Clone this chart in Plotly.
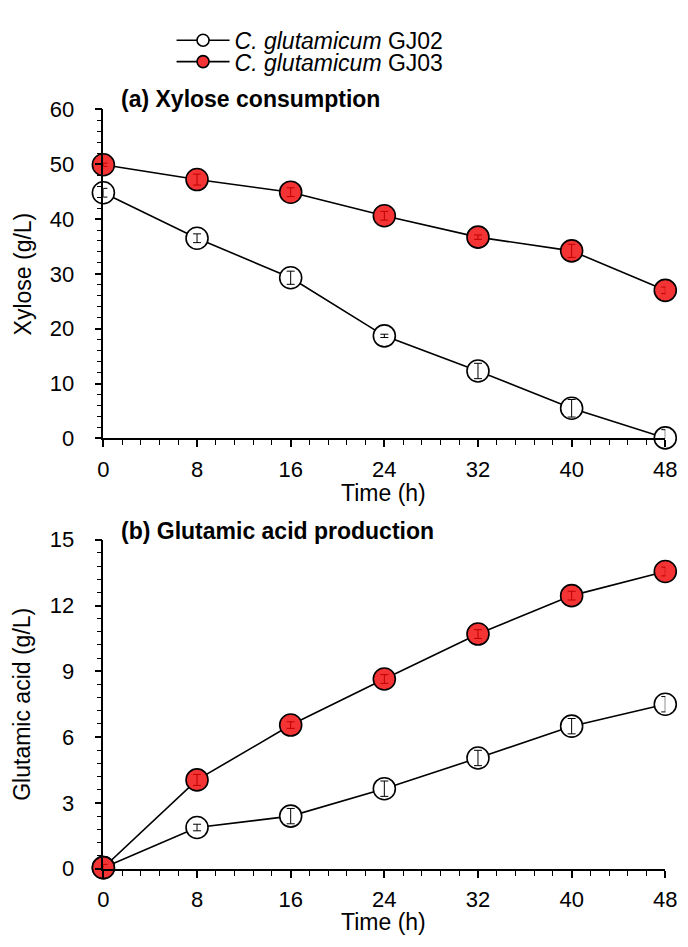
import plotly.graph_objects as go

# Sampling times (h)
time_h = [0, 8, 16, 24, 32, 40, 48]

# Xylose concentration (g/L)
xylose_gj02 = [44.8, 36.5, 29.3, 18.7, 12.3, 5.5, 0.1]
xylose_gj02_sd = [0.8, 0.8, 1.2, 0.3, 1.4, 1.6, 1.5]
xylose_gj03 = [49.9, 47.2, 44.9, 40.6, 36.7, 34.2, 27.0]
xylose_gj03_sd = [0.3, 1.0, 0.8, 0.8, 0.4, 1.2, 0.6]

# Glutamic acid concentration (g/L)
glu_gj02 = [0.05, 1.88, 2.4, 3.65, 5.05, 6.5, 7.5]
glu_gj02_sd = [0.1, 0.15, 0.35, 0.35, 0.35, 0.35, 0.35]
glu_gj03 = [0.05, 4.05, 6.55, 8.65, 10.7, 12.45, 13.55]
glu_gj03_sd = [0.15, 0.25, 0.15, 0.2, 0.2, 0.2, 0.2]

strain_names = ["<i>C. glutamicum</i> GJ02", "<i>C. glutamicum</i> GJ03"]
x_ticks = [0, 8, 16, 24, 32, 40, 48]

W, H = 688, 947
FONT = "Liberation Sans, Arial, sans-serif"
RED = "#F43434"
DARKRED = "#C00000"
FS = 22      # tick labels
FT = 23      # titles and legend

fig = go.Figure()


def add_series(x, y, sd, fill, err_color, xa, ya):
    fig.add_trace(go.Scatter(
        x=x, y=y, mode="lines+markers", xaxis=xa, yaxis=ya, showlegend=False,
        line=dict(color="black", width=1.6),
        marker=dict(size=22, color=fill, line=dict(color="black", width=1.6)),
        cliponaxis=False,
    ))
    # error bars drawn above the markers
    fig.add_trace(go.Scatter(
        x=x, y=y, mode="markers", xaxis=xa, yaxis=ya, showlegend=False,
        marker=dict(size=1, opacity=0),
        error_y=dict(type="data", array=sd, color=err_color, thickness=1, width=4),
        cliponaxis=False, hoverinfo="skip",
    ))


add_series(time_h, xylose_gj02, xylose_gj02_sd, "white", "black", "x", "y")
add_series(time_h, xylose_gj03, xylose_gj03_sd, RED, DARKRED, "x", "y")
add_series(time_h, glu_gj02, glu_gj02_sd, "white", "black", "x2", "y2")
add_series(time_h, glu_gj03, glu_gj03_sd, RED, DARKRED, "x2", "y2")

# legend entries, one legend box per strain so the rows sit close together
for name, fill, leg in zip(strain_names, ["white", RED], ["legend", "legend2"]):
    fig.add_trace(go.Scatter(
        x=[None], y=[None], mode="lines+markers", name=name, legend=leg,
        line=dict(color="black", width=1.6),
        marker=dict(size=12, color=fill, line=dict(color="black", width=1.6)),
    ))

xdom = [100 / W, 677 / W]
top_dom = [1 - 438 / H, 1 - 100 / H]
bot_dom = [1 - 880 / H, 1 - 542 / H]

axis_common = dict(
    showline=True, linecolor="black", linewidth=1.6, showgrid=False, zeroline=False,
    ticks="outside", ticklen=7, tickwidth=1.6, tickcolor="black",
    tickfont=dict(family=FONT, size=FS, color="black"),
    ticklabeloverflow="allow",
)
xaxis_common = dict(axis_common, range=[0, 48], tickvals=x_ticks, ticklabelstandoff=3,
                    minor=dict(dtick=1.6, tick0=0, ticks="outside", ticklen=5,
                               tickwidth=1.4, tickcolor="black"))
yminor = dict(ticks="outside", ticklen=5, tickwidth=1.4, tickcolor="black")

legend_common = dict(xanchor="left", yanchor="middle", bgcolor="rgba(0,0,0,0)",
                     font=dict(family=FONT, size=FT, color="black"), itemwidth=53)

fig.update_layout(
    width=W, height=H, margin=dict(l=0, r=0, t=0, b=0),
    paper_bgcolor="white", plot_bgcolor="white",
    font=dict(family=FONT, size=FS, color="black"),
    xaxis=dict(xaxis_common, domain=xdom, anchor="y"),
    yaxis=dict(axis_common, domain=top_dom, anchor="x", range=[0, 60], dtick=10,
               ticklabelstandoff=16, minor=dict(yminor, dtick=2)),
    xaxis2=dict(xaxis_common, domain=xdom, anchor="y2"),
    yaxis2=dict(axis_common, domain=bot_dom, anchor="x2", range=[0, 15], dtick=3,
                ticklabelstandoff=16, minor=dict(yminor, dtick=0.6)),
    legend=dict(legend_common, x=170 / W, y=1 - 29 / H),
    legend2=dict(legend_common, x=170 / W, y=1 - 51 / H),
    showlegend=True,
)

annots = [
    dict(text="<b>(a) Xylose consumption</b>", x=116 / W, y=1 - 89 / H, xanchor="left", yanchor="middle"),
    dict(text="<b>(b) Glutamic acid production</b>", x=116 / W, y=1 - 533 / H, xanchor="left", yanchor="middle"),
    dict(text="Time (h)", x=388 / W, y=1 - 494 / H, xanchor="center", yanchor="middle"),
    dict(text="Time (h)", x=388 / W, y=1 - 935 / H, xanchor="center", yanchor="middle"),
    dict(text="Xylose (g/L)", x=17 / W, y=1 - 269 / H, xanchor="center", yanchor="middle", textangle=-90),
    dict(text="Glutamic acid (g/L)", x=17 / W, y=1 - 711 / H, xanchor="center", yanchor="middle", textangle=-90),
]
for a in annots:
    fig.add_annotation(xref="paper", yref="paper", showarrow=False,
                       font=dict(family=FONT, size=FT, color="black"), **a)

fig.write_html("out.html")
